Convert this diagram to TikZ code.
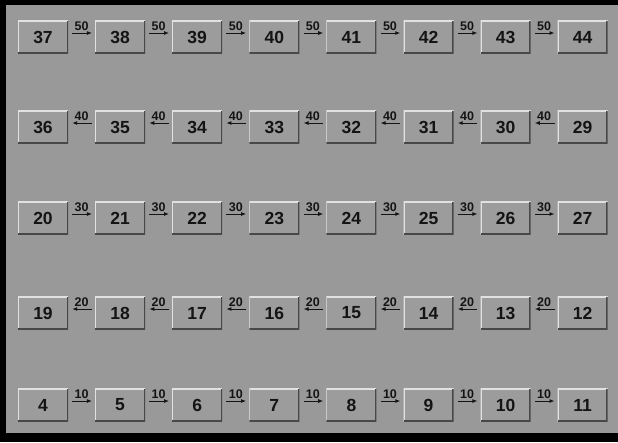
\documentclass[tikz,border=0pt]{standalone}
\usepackage{fontspec}
\setmainfont{Liberation Sans}
\usepackage{tikz}
\usetikzlibrary{arrows.meta,positioning,calc}
\definecolor{panel}{RGB}{153,153,153}
\definecolor{cellgray}{RGB}{156,156,156}
\definecolor{hilite}{RGB}{225,225,225}
\definecolor{lowlite}{RGB}{72,72,72}
\definecolor{ink}{RGB}{20,20,20}
\tikzset{
  >={Latex[length=5pt,width=4pt]},
  cell/.style={fill=cellgray, minimum width=50pt, minimum height=33pt, inner sep=0pt,
    text=ink, font=\bfseries\fontsize{17.5}{19}\selectfont,
    path picture={
      \draw[hilite, line width=2pt] (path picture bounding box.south west) -- (path picture bounding box.north west) -- (path picture bounding box.north east);
      \draw[lowlite, line width=3pt] (path picture bounding box.north east) -- (path picture bounding box.south east) -- (path picture bounding box.south west);
    }},
  flow/.style={draw=ink, line width=0.9pt, shorten <=4pt, shorten >=3pt},
  wt/.style={above, inner sep=1.5pt, text=ink, font=\bfseries\fontsize{12.5}{14}\selectfont},
}
\begin{document}
\begin{tikzpicture}[x=1pt, y=-1pt]
  % frame
  \fill[black] (0,0) rectangle (618,442);
  \fill[panel] (6,5) rectangle (618,433);
  \useasboundingbox (0,0) rectangle (618,442);
  % boxes, row by row
  \foreach \first/\rowy/\dir in {37/37/1, 36/127/-1, 20/218/1, 19/313/-1, 4/405/1} {
    \foreach \i in {0,...,7} {
      \pgfmathtruncatemacro{\n}{\first+\dir*\i}
      \node[cell] (n\n) at ({43+77.1*\i},\rowy) {\n};
    }
  }
  % connectors
  \foreach \first/\dir/\tip/\w in {37/1/->/50, 36/-1/<-/40, 20/1/->/30, 19/-1/<-/20, 4/1/->/10} {
    \foreach \i in {0,...,6} {
      \pgfmathtruncatemacro{\lft}{\first+\dir*\i}
      \pgfmathtruncatemacro{\rgt}{\first+\dir*(\i+1)}
      \draw[flow, \tip] ([yshift=4pt]n\lft.east) -- node[wt] {\w} ([yshift=4pt]n\rgt.west);
    }
  }
\end{tikzpicture}
\end{document}
